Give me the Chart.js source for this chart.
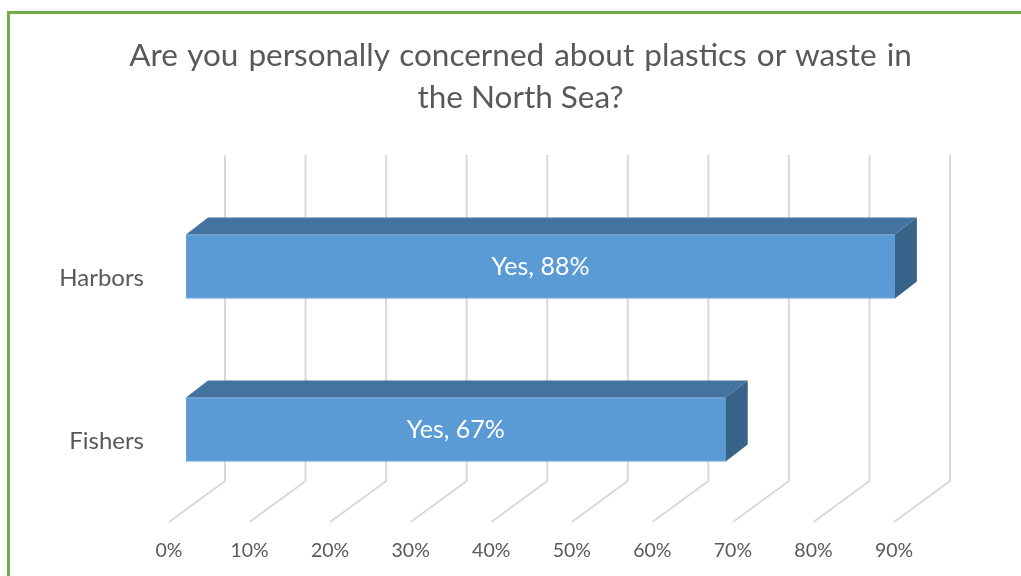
<!DOCTYPE html>
<html>
<head>
<meta charset="utf-8">
<script src="https://cdn.jsdelivr.net/npm/chart.js@4"></script>
<style>
    html, body { margin: 0; padding: 0; background: #fff; }
    #wrap { position: relative; width: 1021px; height: 576px; overflow: hidden; }
    #frame {
        position: absolute; left: 7px; top: 11px; width: 1100px; height: 700px;
        border-left: 3px solid #70AD47; border-top: 3px solid #70AD47;
    }
    #title {
        position: absolute; left: 10px; top: 33px; width: 1021px;
        text-align: center; color: #595959;
        font: 31.5px/42px Lato, "Open Sans", sans-serif;
    }
    #title .l1 { word-spacing: 2px; }
    canvas { position: absolute; left: 0; top: 0; }
</style>
</head>
<body>
<div id="wrap">
    <div id="frame"></div>
    <canvas id="chart" width="1021" height="576"></canvas>
    <div id="title"><span class="l1">Are you personally concerned about plastics or waste in</span><br>the North Sea?</div>
</div>
<script>
const categories = ['Harbors', 'Fishers'];
const yesValues = [88, 67];
const seriesName = 'Yes';
const tickValues = [0, 10, 20, 30, 40, 50, 60, 70, 80, 90];
const tickLabels = ['0%', '10%', '20%', '30%', '40%', '50%', '60%', '70%', '80%', '90%'];

const FONT = 'Lato, "Open Sans", sans-serif';
const TEXT = '#595959';

// fake 3D: back wall, floor, bar top + side faces
const depth3d = {
    id: 'depth3d',
    beforeDatasetsDraw(chart) {
        const { ctx, chartArea, scales: { x } } = chart;
        ctx.save();
        ctx.strokeStyle = '#D9D9D9';
        ctx.lineWidth = 2;
        tickValues.forEach(v => {
            const px = x.getPixelForValue(v);
            ctx.beginPath();
            ctx.moveTo(px + 39, chartArea.top - 30);
            ctx.lineTo(px + 39, chartArea.bottom - 30);
            ctx.lineTo(px - 17, chartArea.bottom + 11);
            ctx.stroke();
        });
        ctx.fillStyle = TEXT;
        ctx.font = '19.5px ' + FONT;
        ctx.textAlign = 'center';
        ctx.textBaseline = 'middle';
        tickValues.forEach((v, i) => {
            ctx.fillText(tickLabels[i], x.getPixelForValue(v) - 17, chartArea.bottom + 40);
        });
        ctx.restore();
    },
    afterDatasetsDraw(chart) {
        const { ctx } = chart;
        const yScale = chart.scales.y;
        const meta = chart.getDatasetMeta(0);
        ctx.save();
        meta.data.forEach((bar, i) => {
            const top = bar.y - bar.height / 2;
            const bottom = bar.y + bar.height / 2;
            ctx.fillStyle = '#44739F';
            ctx.beginPath();
            ctx.moveTo(bar.base, top);
            ctx.lineTo(bar.base + 22, top - 17);
            ctx.lineTo(bar.x + 22, top - 17);
            ctx.lineTo(bar.x, top);
            ctx.closePath();
            ctx.fill();
            ctx.fillStyle = '#386389';
            ctx.beginPath();
            ctx.moveTo(bar.x, top);
            ctx.lineTo(bar.x + 22, top - 17);
            ctx.lineTo(bar.x + 22, bottom - 17);
            ctx.lineTo(bar.x, bottom);
            ctx.closePath();
            ctx.fill();

            ctx.fillStyle = '#FFFFFF';
            ctx.font = '25px ' + FONT;
            ctx.textAlign = 'center';
            ctx.textBaseline = 'middle';
            ctx.fillText(seriesName + ', ' + yesValues[i] + '%', (bar.base + bar.x) / 2, bar.y);

            ctx.fillStyle = TEXT;
            ctx.font = '24px ' + FONT;
            ctx.textAlign = 'right';
            ctx.fillText(categories[i], bar.base - 42, yScale.getPixelForValue(i) + 12);
        });
        ctx.restore();
    }
};

new Chart(document.getElementById('chart'), {
    type: 'bar',
    data: {
        labels: categories,
        datasets: [{
            label: seriesName,
            data: yesValues,
            backgroundColor: '#5B9BD5',
            borderColor: '#6FA6DA',
            borderWidth: 1,
            borderSkipped: false,
            barThickness: 64
        }]
    },
    options: {
        indexAxis: 'y',
        responsive: false,
        animation: false,
        layout: { padding: { left: 186, right: 110, bottom: 65, top: 185 } },
        scales: {
            x: { display: false, min: 0, max: 90 },
            y: { display: false, offset: true }
        },
        plugins: {
            legend: { display: false },
            tooltip: { enabled: false },
            title: { display: false }
        }
    },
    plugins: [depth3d]
});
</script>
</body>
</html>
